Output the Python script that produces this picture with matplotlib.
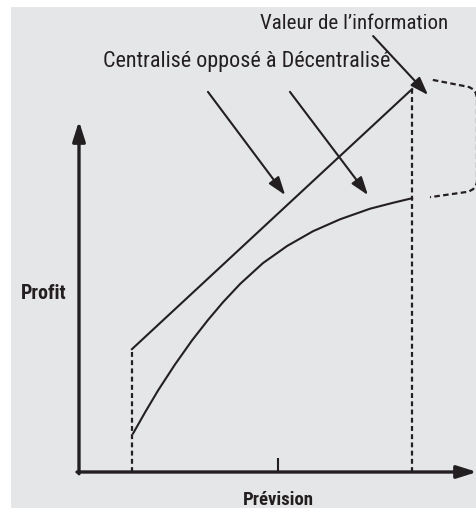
import matplotlib
matplotlib.use("Agg")
import matplotlib.pyplot as plt
from matplotlib import font_manager
from matplotlib.patches import Rectangle, PathPatch
from matplotlib.path import Path

names = {f.name for f in font_manager.fontManager.ttflist}
candidates = ["Liberation Sans Narrow", "DejaVu Sans Condensed",
              "Roboto Condensed", "Open Sans Condensed", "Roboto"]
FONT = next((c for c in candidates if c in names), "DejaVu Sans")

INK = "#231f20"
BG = "#e5e6e8"

# Prévision (x) vs profit (y), arbitrary units
centralise_x = [1.33, 8.37]
centralise_y = [3.50, 10.91]
decentralise_x = [1.36, 1.66, 1.99, 2.41, 2.84, 3.24, 3.62, 4.05, 4.62, 5.23,
                  5.88, 6.56, 7.31, 7.89, 8.37]
decentralise_y = [1.10, 1.70, 2.33, 3.06, 3.75, 4.33, 4.84, 5.36, 5.95, 6.44,
                  6.86, 7.20, 7.50, 7.67, 7.80]
axis_len = [10.0, 10.0]
tick_x = 5.0

label_valeur = "Valeur de l\u2019information"
label_compare = "Centralisé opposé à Décentralisé"
label_x = "Prévision"
label_y = "Profit"

fig = plt.figure(figsize=(4.77, 5.09), dpi=100)
fig.patch.set_facecolor("white")

ax = fig.add_axes([0, 0, 1, 1])
ax.set_xlim(-79 / 39.8, 398 / 39.8)
ax.set_ylim(-37 / 35.1, 472 / 35.1)
ax.axis("off")
ax.add_patch(Rectangle((11 / 477, 1 / 509), 466 / 477, 501 / 509,
                       transform=fig.transFigure, facecolor=BG,
                       edgecolor="none", zorder=-5, clip_on=False))

# axes with arrowheads
axis_arrow = dict(arrowstyle="-|>,head_length=1.2,head_width=0.38", lw=2.4,
                  color=INK, shrinkA=0, shrinkB=0)
ax.annotate("", xy=(axis_len[0], 0), xytext=(-0.05, 0), arrowprops=axis_arrow)
ax.annotate("", xy=(0, axis_len[1]), xytext=(0, -0.05), arrowprops=axis_arrow)
ax.plot([tick_x, tick_x], [0, 0.4], color=INK, lw=1.5, solid_capstyle="butt")

# dotted guides
dots = dict(color=INK, lw=1.6, linestyle=(0, (2.2, 1.5)))
ax.plot([centralise_x[0]] * 2, [0, centralise_y[0]], **dots)
ax.plot([centralise_x[-1]] * 2, [0, centralise_y[-1]], **dots)

# the two profit curves
ax.plot(centralise_x, centralise_y, color=INK, lw=1.5)
ax.plot(decentralise_x, decentralise_y, color=INK, lw=1.5,
        solid_joinstyle="round")

# dashed bracket for the value of information
bracket = Path([(8.89, 11.17), (9.75, 10.98), (10.0, 10.93), (10.0, 10.6),
                (10.0, 8.3), (10.0, 8.05), (9.75, 7.98), (8.82, 7.83)],
               [Path.MOVETO, Path.LINETO, Path.CURVE3, Path.CURVE3,
                Path.LINETO, Path.CURVE3, Path.CURVE3, Path.LINETO])
ax.add_patch(PathPatch(bracket, facecolor="none", edgecolor=INK, lw=1.6,
                       linestyle=(0, (2.5, 1.5)), clip_on=False))

# labels and pointer arrows
ptr = dict(arrowstyle="-|>,head_length=1.1,head_width=0.38", lw=1.5,
           color=INK, shrinkA=0, shrinkB=0)
t_val = ax.text(6.91, 12.62, label_valeur, ha="center", va="baseline",
                fontsize=13.5, family=FONT, color=INK)
ax.annotate("", xy=(8.77, 10.74), xytext=(7.39, 12.42), arrowprops=ptr)
t_cmp = ax.text(4.22, 11.54, label_compare, ha="center", va="baseline",
                fontsize=13.5, family=FONT, color=INK)
ax.annotate("", xy=(5.18, 7.89), xytext=(3.24, 10.83), arrowprops=ptr)
ax.annotate("", xy=(7.26, 7.89), xytext=(5.30, 10.83), arrowprops=ptr)

t_x = ax.text(5.0, -0.94, label_x, ha="center", va="baseline", fontsize=13.5,
              family=FONT, weight="bold", color=INK)
t_y = ax.text(-1.47, 4.92, label_y, ha="left", va="baseline", fontsize=13.5,
              family=FONT, weight="bold", color=INK)

# fit font sizes to the widths measured on the reference (pixels)
renderer = fig.canvas.get_renderer()
for t, width_px in [(t_val, 188), (t_cmp, 287), (t_x, 71), (t_y, 46)]:
    w = t.get_window_extent(renderer).width
    t.set_fontsize(t.get_fontsize() * width_px / w)

fig.savefig("out.png", dpi=100)
